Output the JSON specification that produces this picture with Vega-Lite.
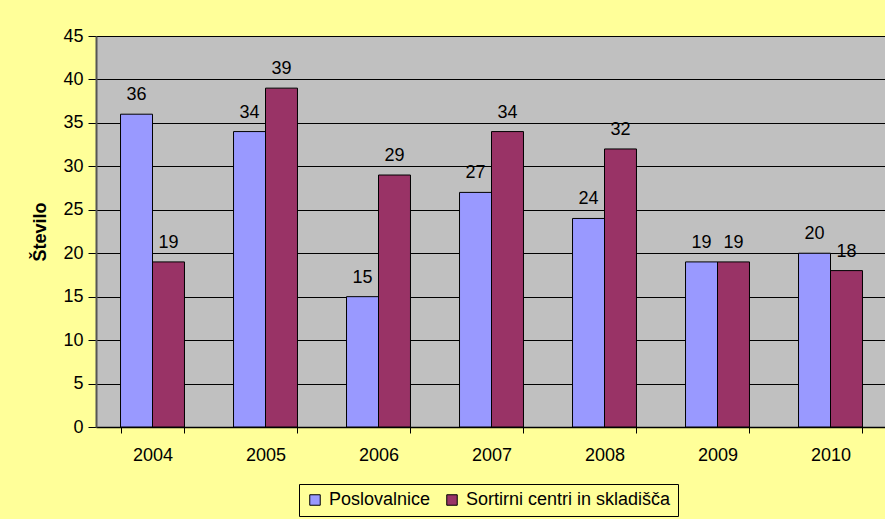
{
  "$schema": "https://vega.github.io/schema/vega-lite/v6.json",
  "autosize": "none",
  "width": 791,
  "height": 391,
  "padding": {"left": 96, "top": 36, "right": 0, "bottom": 92},
  "background": "#FFFF99",
  "config": {
    "font": "Liberation Sans",
    "view": {"fill": "#C0C0C0", "stroke": null},
    "axis": {"labelFont": "Liberation Sans", "titleFont": "Liberation Sans", "labelColor": "#000000", "titleColor": "#000000"}
  },
  "data": {
    "values": [
      {"leto": "2004", "serija": "Poslovalnice", "stevilo": 36},
      {"leto": "2004", "serija": "Sortirni centri in skladišča", "stevilo": 19},
      {"leto": "2005", "serija": "Poslovalnice", "stevilo": 34},
      {"leto": "2005", "serija": "Sortirni centri in skladišča", "stevilo": 39},
      {"leto": "2006", "serija": "Poslovalnice", "stevilo": 15},
      {"leto": "2006", "serija": "Sortirni centri in skladišča", "stevilo": 29},
      {"leto": "2007", "serija": "Poslovalnice", "stevilo": 27},
      {"leto": "2007", "serija": "Sortirni centri in skladišča", "stevilo": 34},
      {"leto": "2008", "serija": "Poslovalnice", "stevilo": 24},
      {"leto": "2008", "serija": "Sortirni centri in skladišča", "stevilo": 32},
      {"leto": "2009", "serija": "Poslovalnice", "stevilo": 19},
      {"leto": "2009", "serija": "Sortirni centri in skladišča", "stevilo": 19},
      {"leto": "2010", "serija": "Poslovalnice", "stevilo": 20},
      {"leto": "2010", "serija": "Sortirni centri in skladišča", "stevilo": 18}
    ]
  },
  "encoding": {
    "x": {
      "field": "leto", "type": "nominal",
      "scale": {"paddingInner": 0.434, "paddingOuter": 0.217},
      "axis": {
        "title": null, "labelAngle": 0, "labelFontSize": 18, "labelPadding": 13,
        "ticks": true, "tickBand": "extent", "tickSize": 6, "tickColor": "#000000",
        "domainColor": "#000000", "domainWidth": 1.5, "grid": false
      }
    },
    "xOffset": {"field": "serija", "type": "nominal", "scale": {"paddingInner": 0, "paddingOuter": 0}},
    "y": {
      "field": "stevilo", "type": "quantitative",
      "scale": {"domain": [0, 45], "nice": false},
      "axis": {
        "title": "Število", "titleFontSize": 18, "titleFontWeight": "bold", "titlePadding": 13,
        "values": [0, 5, 10, 15, 20, 25, 30, 35, 40, 45],
        "labelFontSize": 18, "labelPadding": 5,
        "tickSize": 8, "tickColor": "#000000",
        "domainColor": "#555555", "domainWidth": 2,
        "grid": true, "gridColor": "#000000", "gridWidth": 1, "gridOpacity": 1
      }
    }
  },
  "layer": [
    {
      "mark": {"type": "bar", "stroke": "#000000", "strokeWidth": 1},
      "encoding": {
        "color": {
          "field": "serija", "type": "nominal",
          "scale": {"domain": ["Poslovalnice", "Sortirni centri in skladišča"], "range": ["#9999FF", "#993366"]},
          "legend": {
            "title": null, "orient": "none", "direction": "horizontal",
            "legendX": 203, "legendY": 448,
            "strokeColor": "#000000", "padding": 7,
            "labelFontSize": 18, "labelFont": "Liberation Sans", "labelColor": "#000000", "labelLimit": 400,
            "symbolType": "square", "symbolSize": 110, "symbolStrokeColor": "#000000", "symbolStrokeWidth": 1,
            "symbolOpacity": 1, "labelOffset": 5, "columnPadding": 12
          }
        }
      }
    },
    {
      "mark": {"type": "text", "baseline": "alphabetic", "dy": -14, "fontSize": 18, "color": "#000000"},
      "encoding": {"text": {"field": "stevilo", "type": "quantitative"}}
    }
  ]
}
